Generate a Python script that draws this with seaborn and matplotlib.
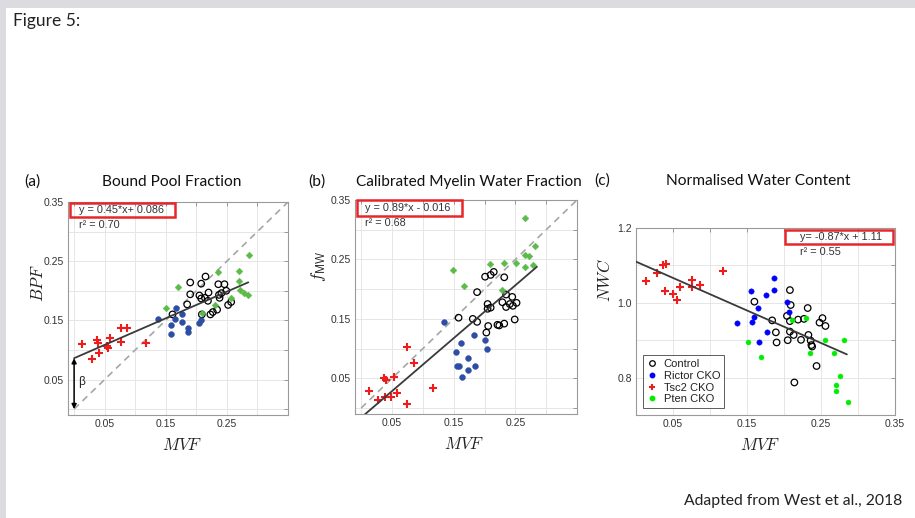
import numpy as np
import pandas as pd
import matplotlib
matplotlib.use("Agg")
import matplotlib.pyplot as plt
import seaborn as sns
from matplotlib.lines import Line2D
from matplotlib.patches import Rectangle

sns.set_theme(style="white")
plt.rcParams['font.family'] = ['Liberation Sans', 'DejaVu Sans']
plt.rcParams['mathtext.fontset'] = 'cm'

# ---------------- data ----------------
groups = ["Control", "Rictor CKO", "Tsc2 CKO", "Pten CKO"]

# Panel (a): BPF vs MVF
a_ctrl_x = [0.161, 0.185, 0.190, 0.190, 0.208, 0.215, 0.205, 0.208, 0.214, 0.220, 0.209, 0.223,
            0.227, 0.234, 0.236, 0.237, 0.238, 0.241, 0.246, 0.249, 0.252, 0.257, 0.219]
a_ctrl_y = [0.160, 0.177, 0.214, 0.194, 0.212, 0.224, 0.192, 0.187, 0.188, 0.197, 0.160, 0.160,
            0.164, 0.168, 0.211, 0.193, 0.188, 0.196, 0.211, 0.200, 0.176, 0.181, 0.183]
a_ric_x = [0.137, 0.159, 0.158, 0.166, 0.165, 0.176, 0.176, 0.186, 0.187, 0.204, 0.207]
a_ric_y = [0.152, 0.142, 0.127, 0.171, 0.152, 0.160, 0.148, 0.137, 0.130, 0.146, 0.151]
a_tsc_x = [0.013, 0.029, 0.038, 0.039, 0.040, 0.053, 0.055, 0.058, 0.076, 0.077, 0.087, 0.117]
a_tsc_y = [0.110, 0.085, 0.117, 0.112, 0.094, 0.106, 0.103, 0.120, 0.113, 0.137, 0.137, 0.111]
a_pten_x = [0.151, 0.170, 0.210, 0.230, 0.236, 0.256, 0.269, 0.270, 0.271, 0.278, 0.284, 0.286]
a_pten_y = [0.171, 0.206, 0.162, 0.176, 0.231, 0.188, 0.233, 0.216, 0.202, 0.196, 0.193, 0.260]

# Panel (b): fMW vs MVF
b_ctrl_x = [0.158, 0.181, 0.188, 0.188, 0.201, 0.203, 0.206, 0.205, 0.205, 0.210, 0.210, 0.215,
            0.221, 0.224, 0.229, 0.232, 0.232, 0.235, 0.235, 0.249, 0.241, 0.245, 0.252, 0.246]
b_ctrl_y = [0.152, 0.150, 0.145, 0.195, 0.221, 0.127, 0.138, 0.175, 0.167, 0.169, 0.224, 0.229,
            0.140, 0.139, 0.178, 0.220, 0.142, 0.191, 0.170, 0.149, 0.175, 0.187, 0.177, 0.172]
b_ric_x = [0.134, 0.154, 0.155, 0.158, 0.162, 0.163, 0.174, 0.173, 0.183, 0.184, 0.201, 0.204]
b_ric_y = [0.145, 0.095, 0.070, 0.071, 0.110, 0.053, 0.084, 0.064, 0.123, 0.070, 0.114, 0.099]
b_tsc_x = [0.012, 0.028, 0.037, 0.040, 0.039, 0.048, 0.054, 0.058, 0.074, 0.074, 0.085, 0.116]
b_tsc_y = [0.028, 0.013, 0.051, 0.048, 0.018, 0.018, 0.052, 0.026, 0.102, 0.007, 0.076, 0.033]
b_pten_x = [0.149, 0.166, 0.209, 0.229, 0.232, 0.251, 0.266, 0.266, 0.266, 0.272, 0.278, 0.282]
b_pten_y = [0.232, 0.205, 0.242, 0.198, 0.244, 0.244, 0.320, 0.257, 0.238, 0.255, 0.241, 0.273]

# Panel (c): NWC vs MVF
c_ctrl_x = [0.160, 0.184, 0.189, 0.190, 0.204, 0.205, 0.208, 0.209, 0.208, 0.208, 0.213, 0.214,
            0.219, 0.223, 0.227, 0.232, 0.233, 0.236, 0.237, 0.238, 0.244, 0.248, 0.252, 0.256]
c_ctrl_y = [1.003, 0.953, 0.921, 0.894, 0.965, 0.900, 1.034, 0.994, 0.951, 0.923, 0.914, 0.787,
            0.955, 0.901, 0.957, 0.986, 0.914, 0.899, 0.887, 0.883, 0.831, 0.947, 0.959, 0.938]
c_ric_x = [0.136, 0.156, 0.157, 0.159, 0.165, 0.166, 0.175, 0.177, 0.186, 0.187, 0.204, 0.207]
c_ric_y = [0.947, 1.032, 0.950, 0.962, 0.986, 0.894, 1.021, 0.923, 1.066, 1.034, 1.001, 0.976]
c_tsc_x = [0.013, 0.029, 0.037, 0.041, 0.039, 0.050, 0.055, 0.059, 0.076, 0.076, 0.087, 0.118]
c_tsc_y = [1.057, 1.080, 1.102, 1.105, 1.032, 1.024, 1.007, 1.043, 1.062, 1.043, 1.048, 1.084]
c_pten_x = [0.152, 0.169, 0.211, 0.230, 0.235, 0.256, 0.267, 0.270, 0.270, 0.276, 0.281, 0.286]
c_pten_y = [0.896, 0.856, 0.953, 0.960, 0.867, 0.900, 0.867, 0.781, 0.763, 0.805, 0.900, 0.736]

# regression fits and identity lines
fit_slopes = [0.45, 0.89, -0.87]
fit_intercepts = [0.086, -0.016, 1.11]
fit_x_range = [0.0, 0.285]
identity_range = [0.0, 0.35]
fit_labels = ["y = 0.45*x+ 0.086", "y = 0.89*x - 0.016", "y= -0.87*x + 1.11"]
r2_labels = ["r² = 0.70", "r² = 0.68", "r² = 0.55"]

titles = ["Bound Pool Fraction", "Calibrated Myelin Water Fraction", "Normalised Water Content"]
panel_tags = ["(a)", "(b)", "(c)"]
ylabels = [r"$BPF$", r"$f_{\mathsf{MW}}$", r"$NWC$"]
xlabel = r"$MVF$"

ab_ticks = [0.0, 0.05, 0.10, 0.15, 0.20, 0.25, 0.30, 0.35]
ab_xticklabels = ["", "0.05", "", "0.15", "", "0.25", "", ""]
ab_yticklabels = ["", "0.05", "", "0.15", "", "0.25", "", "0.35"]
c_xticks = [0.05, 0.10, 0.15, 0.20, 0.25, 0.30, 0.35]
c_xticklabels = ["0.05", "", "0.15", "", "0.25", "", "0.35"]
c_yticks = [0.7, 0.8, 0.9, 1.0, 1.1, 1.2]
c_yticklabels = ["", "0.8", "", "1.0", "", "1.2"]

# ---------------- figure ----------------
W, H = 915, 518
fig = plt.figure(figsize=(W / 100, H / 100), dpi=100)
fig.patch.set_facecolor("white")


def fx(px):
    return px / W


def fy(py):
    return 1 - py / H


# slide frame (grey strips top / left)
fig.add_artist(Rectangle((0, fy(8)), 1, 8 / H, transform=fig.transFigure,
                         facecolor="#dcdce0", edgecolor="none", zorder=0))
fig.add_artist(Rectangle((0, 0), 6 / W, 1, transform=fig.transFigure,
                         facecolor="#dcdce0", edgecolor="none", zorder=0))

title_font = ["Lato", "DejaVu Sans"]
fig.text(fx(13), fy(21), "Figure 5:", fontsize=12.5, family=title_font, color="#222222",
         ha="left", va="center")
fig.text(fx(902), fy(501), "Adapted from West et al., 2018", fontsize=11.3, family=title_font,
         color="#222222", ha="right", va="center")

axes_px = [(68, 202, 288, 415), (355, 200, 577, 414), (636, 228, 895, 415)]
axs = []
for (l, t, r, b) in axes_px:
    axs.append(fig.add_axes([fx(l), fy(b), (r - l) / W, (b - t) / H]))

ctrl_kw = dict(marker="o", facecolor="none", edgecolor="black", s=22, linewidth=0.9, zorder=3)
tsc_kw = dict(marker="+", color="#ee1c1c", edgecolor="#ee1c1c", s=38, linewidth=1.5, zorder=3)

panel_data = [
    (a_ctrl_x, a_ctrl_y, a_ric_x, a_ric_y, a_tsc_x, a_tsc_y, a_pten_x, a_pten_y),
    (b_ctrl_x, b_ctrl_y, b_ric_x, b_ric_y, b_tsc_x, b_tsc_y, b_pten_x, b_pten_y),
    (c_ctrl_x, c_ctrl_y, c_ric_x, c_ric_y, c_tsc_x, c_tsc_y, c_pten_x, c_pten_y),
]
ric_colors = ["#2d4ea5", "#2d4ea5", "#0000ff"]
pten_colors = ["#5bbb4a", "#5bbb4a", "#00ee00"]
pten_markers = ["D", "D", "o"]
pten_sizes = [12, 12, 13]
ric_sizes = [18, 18, 15]

for i, ax in enumerate(axs):
    cx, cy, rx, ry, tx, ty, px_, py_ = panel_data[i]
    ax.grid(True, color="#e6e6e6", linewidth=0.7, zorder=0)
    ax.set_axisbelow(True)
    if i < 2:
        ident = pd.DataFrame({"x": identity_range, "y": identity_range})
        sns.lineplot(data=ident, x="x", y="y", ax=ax, color="#a6a6a6", linewidth=1.2,
                     zorder=2).lines[-1].set_dashes([4, 3])
    fx_arr = np.array(fit_x_range)
    fit_df = pd.DataFrame({"x": fx_arr, "y": fit_slopes[i] * fx_arr + fit_intercepts[i]})
    sns.lineplot(data=fit_df, x="x", y="y", ax=ax, color="#3a3a3a", linewidth=1.3, zorder=4)

    sns.scatterplot(x=cx, y=cy, ax=ax, **ctrl_kw)
    sns.scatterplot(x=rx, y=ry, ax=ax, marker="o", color=ric_colors[i],
                    edgecolor=ric_colors[i], s=ric_sizes[i], linewidth=0.3, zorder=3)
    sns.scatterplot(x=tx, y=ty, ax=ax, **tsc_kw)
    sns.scatterplot(x=px_, y=py_, ax=ax, marker=pten_markers[i], color=pten_colors[i],
                    edgecolor=pten_colors[i], s=pten_sizes[i], linewidth=0.3, zorder=3)

    if i < 2:
        ax.set_xlim(-0.01, 0.35)
        ax.set_ylim(-0.01, 0.35)
        ax.set_xticks(ab_ticks)
        ax.set_xticklabels(ab_xticklabels)
        ax.set_yticks(ab_ticks)
        ax.set_yticklabels(ab_yticklabels)
    else:
        ax.set_xlim(0.0, 0.35)
        ax.set_ylim(0.7, 1.2)
        ax.set_xticks(c_xticks)
        ax.set_xticklabels(c_xticklabels)
        ax.set_yticks(c_yticks)
        ax.set_yticklabels(c_yticklabels)

    ax.tick_params(direction="in", length=3, width=0.6, top=True, right=True,
                   color="#8a8a8a", labelcolor="#333333", labelsize=7.5, pad=3)
    for sp in ax.spines.values():
        sp.set_color("#9a9a9a")
        sp.set_linewidth(0.8)

    ax.set_xlabel(xlabel, fontsize=12, color="#222222")
    ax.xaxis.label.set_va("center")
    ax.set_ylabel(ylabels[i], fontsize=12, color="#222222")
    ax.yaxis.label.set_va("center")

axs[0].xaxis.set_label_coords(0.52, -30 / 213)
axs[1].xaxis.set_label_coords(0.49, -30 / 214)
axs[2].xaxis.set_label_coords(0.48, -30 / 187)
axs[0].yaxis.set_label_coords(-0.135, 0.62)
axs[1].yaxis.set_label_coords(-0.165, 0.69)
axs[2].yaxis.set_label_coords(-0.12, 0.72)

# beta arrow at intercept in (a)
axs[0].annotate("", xy=(0.0, 0.0), xytext=(0.0, fit_intercepts[0]),
                arrowprops=dict(arrowstyle="<|-|>", color="black", lw=1.1,
                                mutation_scale=7, shrinkA=0, shrinkB=0), zorder=5)
axs[0].text(0.007, 0.045, "β", fontsize=8.5, color="#222222", va="center", ha="left")

# panel titles
fig.text(fx(24), fy(182), "(a)", fontsize=11.2, family=title_font, color="#111111", va="center")
fig.text(fx(172), fy(182), titles[0], fontsize=11.2, family=title_font, color="#111111",
         va="center", ha="center")
fig.text(fx(308), fy(182), "(b)", fontsize=11.2, family=title_font, color="#111111", va="center")
fig.text(fx(356), fy(182), titles[1], fontsize=11.1, family=title_font, color="#111111",
         va="center", ha="left")
fig.text(fx(594), fy(181), "(c)", fontsize=11.2, family=title_font, color="#111111", va="center")
fig.text(fx(758), fy(181), titles[2], fontsize=11.2, family=title_font, color="#111111",
         va="center", ha="center")

# fit equations with red boxes
box_px = [(70, 203, 175, 217), (357, 200, 462, 216), (785, 230, 893, 244)]
eq_pos = [(79, 210, 225), (365, 208, 223), (800, 237, 252)]
for i in range(3):
    l, t, r, b = box_px[i]
    fig.add_artist(Rectangle((fx(l), fy(b)), (r - l) / W, (b - t) / H, transform=fig.transFigure,
                             facecolor="none", edgecolor="#e8262a", linewidth=1.8, zorder=6))
    x0, y_eq, y_r2 = eq_pos[i]
    fig.text(fx(x0), fy(y_eq), fit_labels[i], fontsize=7.8, color="#333333", va="center", ha="left")
    fig.text(fx(x0), fy(y_r2), r2_labels[i], fontsize=7.8, color="#333333", va="center", ha="left")

# legend in (c)
handles = [
    Line2D([], [], linestyle="none", marker="o", markerfacecolor="none", markeredgecolor="black",
           markersize=4, markeredgewidth=0.9),
    Line2D([], [], linestyle="none", marker="o", color=ric_colors[2], markersize=3.2),
    Line2D([], [], linestyle="none", marker="+", color="#ee1c1c", markersize=5, markeredgewidth=1.5),
    Line2D([], [], linestyle="none", marker="o", color=pten_colors[2], markersize=3.2),
]
leg = axs[2].legend(handles, groups, loc="lower left", bbox_to_anchor=(0.027, 0.037),
                    borderaxespad=0, fontsize=8, frameon=True, fancybox=False,
                    handlelength=1.0, handletextpad=0.5, labelspacing=0.15,
                    borderpad=0.35)
leg.get_frame().set_edgecolor("#333333")
leg.get_frame().set_linewidth(0.7)
for txt in leg.get_texts():
    txt.set_color("#222222")

fig.savefig("out.png", dpi=100, facecolor="white")
